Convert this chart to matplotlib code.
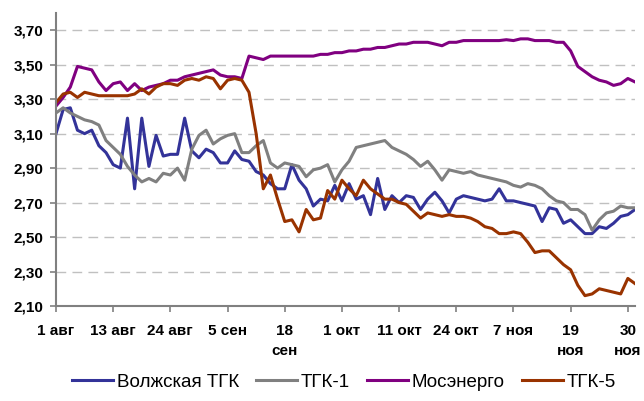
import numpy as np
import matplotlib
matplotlib.use("Agg")
from matplotlib import pyplot as plt

# tick labels (category axis, one label every 8 trading days)
tick_labels = ["1 авг", "13 авг", "24 авг", "5 сен", "18\nсен", "1 окт",
               "11 окт", "24 окт", "7 ноя", "19\nноя", "30\nноя"]
tick_step = 8

volga = [3.10, 3.24, 3.25, 3.12, 3.10, 3.12, 3.03, 2.99, 2.92, 2.90,
         3.19, 2.78, 3.19, 2.91, 3.09, 2.97, 2.98, 2.98, 3.19, 3.00,
         2.96, 3.01, 2.99, 2.93, 2.93, 3.00, 2.95, 2.94, 2.88, 2.86,
         2.81, 2.78, 2.78, 2.92, 2.83, 2.78, 2.68, 2.72, 2.71, 2.80,
         2.71, 2.81, 2.72, 2.74, 2.63, 2.84, 2.66, 2.74, 2.70, 2.74,
         2.73, 2.66, 2.72, 2.76, 2.71, 2.64, 2.72, 2.74, 2.73, 2.72,
         2.71, 2.72, 2.78, 2.71, 2.71, 2.70, 2.69, 2.68, 2.59, 2.67,
         2.66, 2.58, 2.60, 2.56, 2.52, 2.52, 2.56, 2.55, 2.58, 2.62,
         2.63, 2.66]

tgk1 = [3.22, 3.25, 3.22, 3.20, 3.18, 3.17, 3.15, 3.06, 3.02, 2.98,
        2.91, 2.86, 2.82, 2.84, 2.82, 2.87, 2.86, 2.90, 2.83, 3.01,
        3.09, 3.12, 3.04, 3.07, 3.09, 3.10, 2.99, 2.99, 3.03, 3.06,
        2.93, 2.90, 2.93, 2.92, 2.91, 2.85, 2.89, 2.90, 2.92, 2.82,
        2.89, 2.94, 3.02, 3.03, 3.04, 3.05, 3.06, 3.02, 3.00, 2.98,
        2.95, 2.91, 2.94, 2.89, 2.83, 2.89, 2.88, 2.87, 2.88, 2.86,
        2.85, 2.84, 2.83, 2.82, 2.80, 2.79, 2.81, 2.80, 2.78, 2.74,
        2.71, 2.70, 2.66, 2.66, 2.63, 2.54, 2.60, 2.64, 2.65, 2.68,
        2.67, 2.67]

mosenergo = [3.26, 3.31, 3.37, 3.49, 3.48, 3.47, 3.40, 3.35, 3.39, 3.40,
             3.35, 3.39, 3.35, 3.37, 3.38, 3.39, 3.41, 3.41, 3.43, 3.44,
             3.45, 3.46, 3.47, 3.44, 3.43, 3.43, 3.42, 3.55, 3.54, 3.53,
             3.55, 3.55, 3.55, 3.55, 3.55, 3.55, 3.55, 3.56, 3.56, 3.57,
             3.57, 3.58, 3.58, 3.59, 3.59, 3.60, 3.60, 3.61, 3.62, 3.62,
             3.63, 3.63, 3.63, 3.62, 3.61, 3.63, 3.63, 3.64, 3.64, 3.64,
             3.64, 3.64, 3.64, 3.645, 3.64, 3.65, 3.65, 3.64, 3.64, 3.64,
             3.63, 3.63, 3.58, 3.49, 3.46, 3.43, 3.41, 3.40, 3.38, 3.39,
             3.42, 3.40]

tgk5 = [3.28, 3.33, 3.34, 3.31, 3.34, 3.33, 3.32, 3.32, 3.32, 3.32,
        3.32, 3.33, 3.36, 3.33, 3.37, 3.39, 3.39, 3.38, 3.41, 3.42,
        3.41, 3.43, 3.42, 3.36, 3.41, 3.42, 3.41, 3.34, 3.10, 2.78,
        2.86, 2.72, 2.59, 2.60, 2.53, 2.66, 2.60, 2.61, 2.77, 2.72,
        2.83, 2.78, 2.74, 2.83, 2.78, 2.75, 2.72, 2.72, 2.70, 2.69,
        2.65, 2.61, 2.64, 2.63, 2.62, 2.63, 2.62, 2.62, 2.61, 2.59,
        2.56, 2.55, 2.52, 2.52, 2.53, 2.52, 2.47, 2.41, 2.42, 2.42,
        2.38, 2.34, 2.31, 2.22, 2.16, 2.17, 2.20, 2.19, 2.18, 2.17,
        2.26, 2.23]

series = [("Волжская ТГК", volga, "#333399"),
          ("ТГК-1", tgk1, "#808080"),
          ("Мосэнерго", mosenergo, "#800080"),
          ("ТГК-5", tgk5, "#993300")]

plt.rcParams['font.family'] = ['Liberation Sans', 'DejaVu Sans']

fig = plt.figure(figsize=(6.44, 4.01), dpi=100)
ax = fig.add_axes([56 / 644, 1 - 306 / 401, (635 - 56) / 644, (306 - 13) / 401])

for name, vals, col in series:
    ax.plot(np.arange(len(vals)), vals, color=col, lw=2.2, label=name)

ax.set_xlim(0, len(volga) - 1)
ax.set_ylim(2.10, 3.80)

yt = np.arange(2.10, 3.71, 0.2)
ax.set_yticks(yt)
ax.set_yticklabels([f"{v:.2f}".replace(".", ",") for v in yt],
                   fontsize=11, fontweight='bold')
ax.set_xticks(np.arange(len(tick_labels)) * tick_step)
ax.set_xticklabels(tick_labels, fontsize=11, fontweight='bold', linespacing=1.5)

for v in yt[1:]:
    ax.axhline(v, color="#c0c0c0", lw=1, ls=(0, (7, 4.5)), zorder=0)

for s in ["top", "right"]:
    ax.spines[s].set_visible(False)
for s in ["left", "bottom"]:
    ax.spines[s].set_color("#808080")
    ax.spines[s].set_linewidth(1.5)
ax.tick_params(axis="both", colors="#808080", labelcolor="black",
               width=1.2, length=4, direction="out")
ax.tick_params(axis="x", pad=9)
ax.tick_params(axis="y", pad=5)

fig.legend(loc="center", bbox_to_anchor=(0.534, 0.047), ncol=4, frameon=False,
           fontsize=13.5, handlelength=2.2, handletextpad=0.2, columnspacing=0.9)

fig.savefig("out.png", dpi=100)
